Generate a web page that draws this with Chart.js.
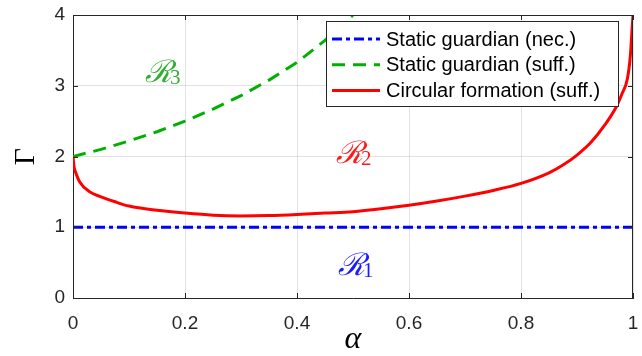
<!DOCTYPE html>
<html><head><meta charset="utf-8">
<script src="https://cdn.jsdelivr.net/npm/chart.js@4"></script>
<style>html,body{margin:0;padding:0;background:#fff}canvas{display:block}</style>
</head><body>
<canvas id="c" width="642" height="356"></canvas>
<script>
// ---- data ----
const xTicks = [0, 0.2, 0.4, 0.6, 0.8, 1];
const xTickLabels = ['0', '0.2', '0.4', '0.6', '0.8', '1'];
const yTicks = [0, 1, 2, 3, 4];
const yTickLabels = ['0', '1', '2', '3', '4'];

const seriesNames = ['Static guardian (nec.)', 'Static guardian (suff.)', 'Circular formation (suff.)'];

const necAlpha = [0, 1];
const necGamma = [1, 1];

const suffAlpha = [0, 0.05, 0.1, 0.15, 0.2, 0.25, 0.3, 0.35, 0.4, 0.45, 0.5];
const suffGamma = [2.0, 2.1, 2.22, 2.35, 2.5, 2.67, 2.86, 3.08, 3.33, 3.64, 4.0];

const circAlpha = [0, 0.002, 0.005, 0.012, 0.03, 0.05, 0.075, 0.1, 0.15, 0.2, 0.25, 0.3, 0.35, 0.4, 0.45, 0.5,
                   0.55, 0.6, 0.65, 0.7, 0.75, 0.8, 0.85, 0.875, 0.9, 0.925, 0.95, 0.97, 0.98, 0.99, 0.995, 0.998, 1];
const circGamma = [2.0, 1.85, 1.77, 1.64, 1.5, 1.43, 1.36, 1.3, 1.24, 1.2, 1.17, 1.16, 1.165, 1.18, 1.2, 1.22,
                   1.26, 1.31, 1.37, 1.44, 1.52, 1.62, 1.77, 1.88, 2.02, 2.2, 2.45, 2.7, 2.88, 3.1, 3.4, 3.75, 4.0];

const regionMain = ['\u211B', '\u211B', '\u211B'];
const regionSub = ['3', '2', '1'];
const regionAlpha = [0.132, 0.473, 0.477];
const regionGamma = [3.05, 1.91, 0.325];

// ---- styles ----
const colNec = '#0000ff', colSuff = '#00b000', colCirc = '#ff0000';
const regionColors = ['#2fae2f', '#ff1a1a', '#1a1aff'];
const axisCol = '#262626';

const toXY = (xs, ys) => xs.map((v, i) => ({x: v, y: ys[i]}));

const datasets = [
  {label: seriesNames[0], data: toXY(necAlpha, necGamma), borderColor: colNec, borderWidth: 3,
   borderDash: [10, 4, 4, 4], pointRadius: 0, order: 3, fill: false},
  {label: seriesNames[1], data: toXY(suffAlpha, suffGamma), borderColor: colSuff, borderWidth: 3,
   borderDash: [13, 8], pointRadius: 0, order: 2, fill: false},
  {label: seriesNames[2], data: toXY(circAlpha, circGamma), borderColor: colCirc, borderWidth: 3,
   pointRadius: 0, order: 1, fill: false, cubicInterpolationMode: 'monotone'}
];

const framePlugin = {
  id: 'frame',
  afterDraw(chart) {
    const {ctx, chartArea: a, scales: {x, y}} = chart;
    ctx.save();
    ctx.strokeStyle = axisCol; ctx.lineWidth = 1; ctx.setLineDash([]);
    ctx.beginPath();
    ctx.moveTo(a.left, Math.round(a.top) + 0.5); ctx.lineTo(a.right, Math.round(a.top) + 0.5);
    ctx.moveTo(Math.round(a.right) - 0.5, a.top); ctx.lineTo(Math.round(a.right) - 0.5, a.bottom);
    const tl = 5;
    xTicks.forEach(v => {
      const px = Math.round(x.getPixelForValue(v)) + 0.5;
      ctx.moveTo(px, a.bottom); ctx.lineTo(px, a.bottom - tl);
      ctx.moveTo(px, a.top); ctx.lineTo(px, a.top + tl);
    });
    yTicks.forEach(v => {
      const py = Math.round(y.getPixelForValue(v)) + 0.5;
      ctx.moveTo(a.left, py); ctx.lineTo(a.left + tl, py);
      ctx.moveTo(a.right, py); ctx.lineTo(a.right - tl, py);
    });
    ctx.stroke();

    // region labels
    ctx.textBaseline = 'alphabetic'; ctx.textAlign = 'left';
    regionMain.forEach((t, i) => {
      const px = x.getPixelForValue(regionAlpha[i]);
      const py = y.getPixelForValue(regionGamma[i]);
      ctx.fillStyle = regionColors[i];
      ctx.font = 'italic 31px "DejaVu Serif"';
      ctx.fillText(t, px - 2, py);
      const w = ctx.measureText(t).width;
      ctx.font = '21px "Liberation Serif"';
      ctx.fillText(regionSub[i], px + w - 4, py + 2);
    });

    // legend
    const lx = 326, ly = 21, lw = 292, lh = 85;
    ctx.fillStyle = '#fff';
    ctx.fillRect(lx, ly, lw, lh);
    ctx.strokeStyle = axisCol; ctx.lineWidth = 1;
    ctx.strokeRect(lx + 0.5, ly + 0.5, lw, lh);
    ctx.font = '20px "Liberation Sans"';
    ctx.textBaseline = 'middle';
    seriesNames.forEach((name, i) => {
      const ds = chart.data.datasets[i];
      const cy = ly + 18 + i * 25.7;
      ctx.strokeStyle = ds.borderColor; ctx.lineWidth = ds.borderWidth;
      ctx.setLineDash(ds.borderDash || []);
      ctx.beginPath(); ctx.moveTo(lx + 6, cy); ctx.lineTo(lx + 54, cy); ctx.stroke();
      ctx.setLineDash([]);
      ctx.fillStyle = '#000';
      ctx.fillText(name, lx + 60, cy + 1);
    });
    ctx.restore();
  }
};

Chart.defaults.font.family = '"Liberation Sans", Arial, sans-serif';
Chart.defaults.color = axisCol;

new Chart(document.getElementById('c'), {
  type: 'line',
  data: {datasets},
  options: {
    responsive: false,
    animation: false,
    events: [],
    layout: {padding: {top: 15, right: 9, left: 0, bottom: 0}},
    plugins: {legend: {display: false}, tooltip: {enabled: false}},
    scales: {
      x: {
        type: 'linear', min: 0, max: 1,
        afterBuildTicks: s => { s.ticks = xTicks.map(v => ({value: v})); },
        afterFit: s => { s.height = 58; s.paddingLeft = 0; s.paddingRight = 0; },
        ticks: {callback: (v, i) => xTickLabels[i], font: {size: 19}, padding: 14, color: axisCol, maxRotation: 0, autoSkip: false},
        grid: {color: 'rgba(38,38,38,0.13)', drawTicks: false, lineWidth: 1},
        border: {color: axisCol, width: 1},
        title: {display: true, text: '\u03B1', font: {family: '"Liberation Serif"', size: 32, style: 'italic', lineHeight: 1.0}, padding: {top: 0, bottom: 0}, color: '#000'}
      },
      y: {
        type: 'linear', min: 0, max: 4,
        afterBuildTicks: s => { s.ticks = yTicks.map(v => ({value: v})); },
        afterFit: s => { s.width = 73; s.paddingTop = 0; s.paddingBottom = 0; },
        ticks: {callback: (v, i) => yTickLabels[i], font: {size: 19}, padding: 8, color: axisCol},
        grid: {color: 'rgba(38,38,38,0.13)', drawTicks: false, lineWidth: 1},
        border: {color: axisCol, width: 1},
        title: {display: true, text: '\u0393', font: {family: '"Liberation Serif"', size: 30}, padding: {top: 8, bottom: 0}, color: '#000'}
      }
    }
  },
  plugins: [framePlugin]
});
</script>
</body></html>
